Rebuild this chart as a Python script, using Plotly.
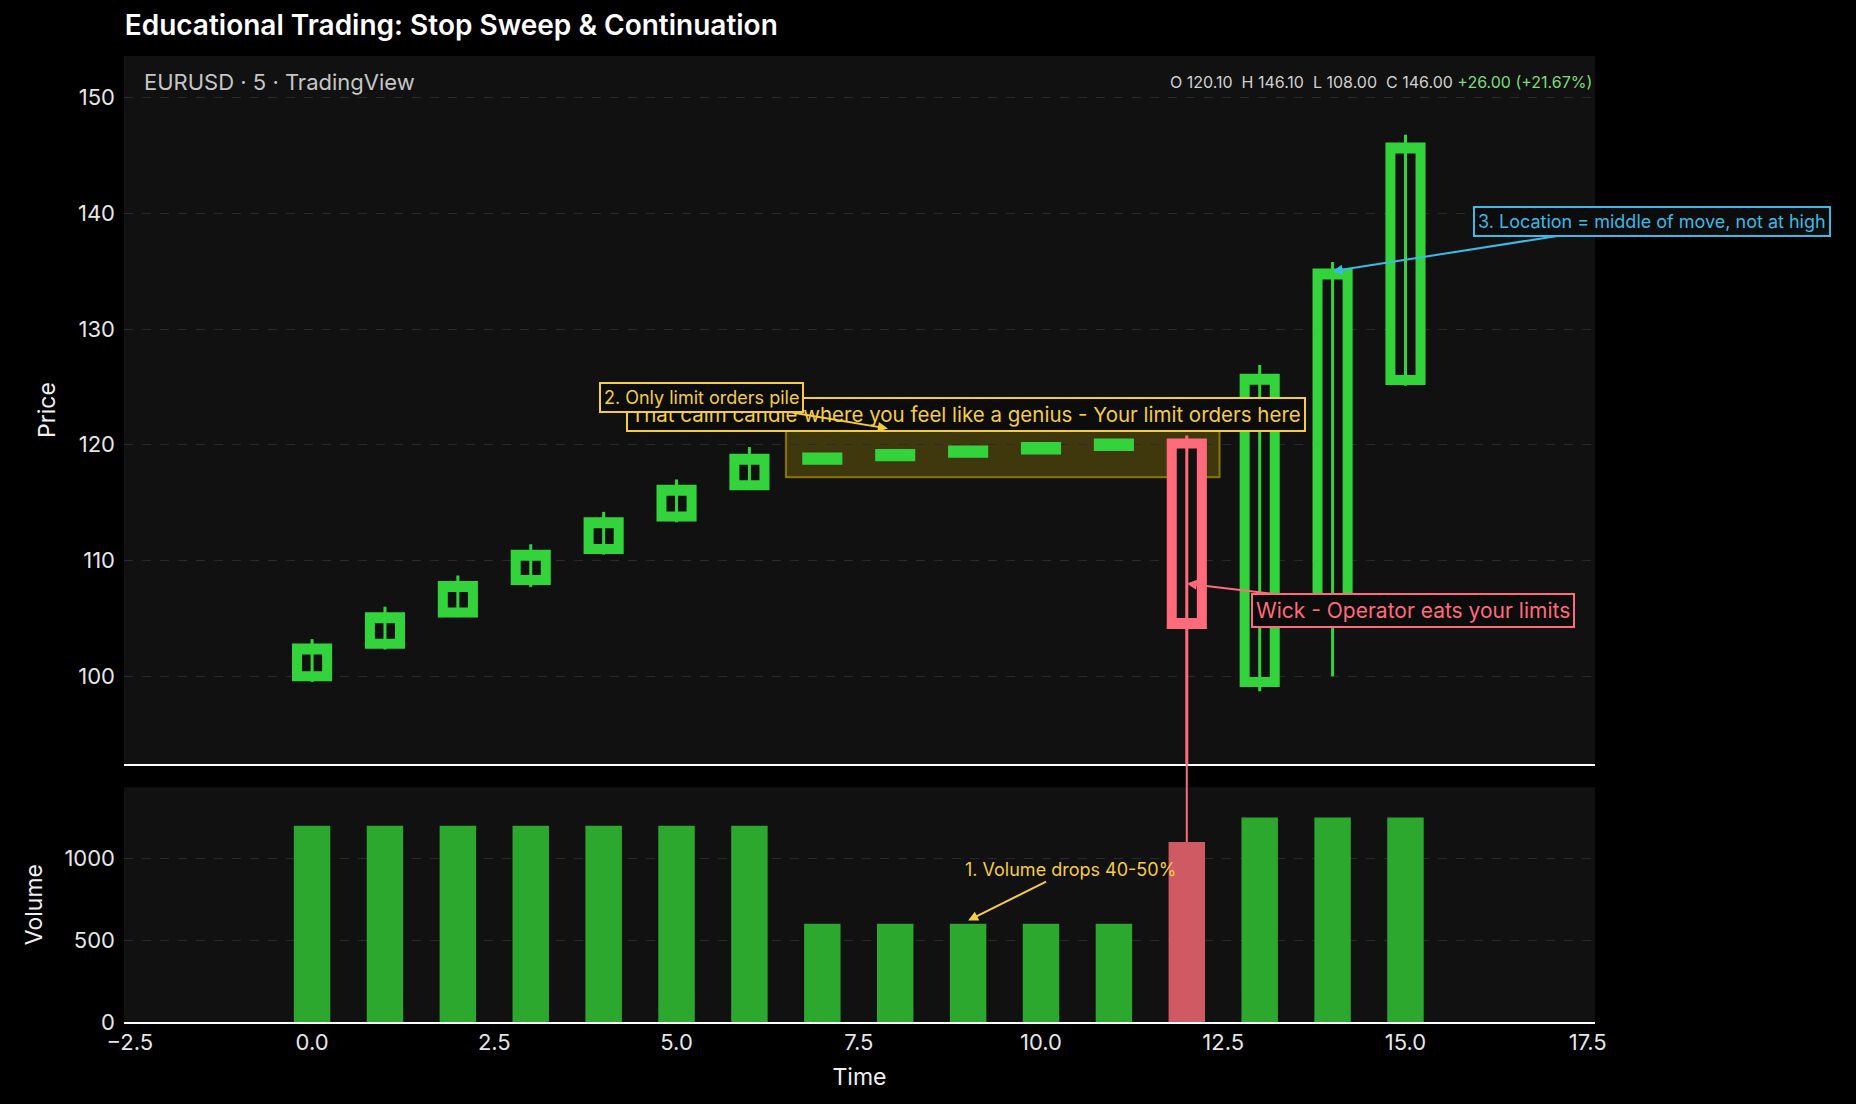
import plotly.graph_objects as go

# -----------------------------
# Data
# -----------------------------
TIME = list(range(16))
OPEN = [100.0, 102.8, 105.5, 108.3, 111.0, 113.8, 116.5,
        118.7, 119.0, 119.3, 119.6, 119.9,
        120.1, 99.5, 106.0, 125.6]
HIGH = [103.2, 106.0, 108.7, 111.4, 114.2, 117.0, 119.8,
        119.1, 119.4, 119.7, 120.0, 120.3,
        120.8, 126.9, 135.8, 146.8]
LOW = [99.5, 102.3, 105.1, 107.7, 110.5, 113.3, 116.1,
       118.5, 118.8, 119.1, 119.4, 119.7,
       90.0, 98.7, 100.0, 125.1]
CLOSE = [102.4, 105.1, 107.8, 110.5, 113.3, 116.1, 118.8,
         118.9, 119.2, 119.5, 119.8, 120.1,
         104.5, 125.7, 134.8, 145.7]
VOLUME = [1200, 1200, 1200, 1200, 1200, 1200, 1200,
          600, 600, 600, 600, 600,
          1100, 1250, 1250, 1250]

X_TICKS = [-2.5, 0.0, 2.5, 5.0, 7.5, 10.0, 12.5, 15.0, 17.5]

# -----------------------------
# Style
# -----------------------------
FONT = "Inter"
GREEN = "#33D33C"
RED = "#FF6B7A"
VOL_GREEN = "#2DA82E"
VOL_RED = "#CF5A64"
YELLOW = "#F4CD45"
CYAN = "#3CB9E6"
PLOT_BG = "#111111"
GRID = "#2a2a2a"

X_RANGE = [-2.58, 17.6]
PRICE_RANGE = [92.4, 153.6]
VOL_RANGE = [0, 1435]
PRICE_DOMAIN = [0.267, 1.0]
VOL_DOMAIN = [0.0, 0.243]


def vol_to_paper(v):
    return VOL_DOMAIN[0] + (v - VOL_RANGE[0]) / (VOL_RANGE[1] - VOL_RANGE[0]) * (VOL_DOMAIN[1] - VOL_DOMAIN[0])


up = [c >= o for o, c in zip(OPEN, CLOSE)]
body_hi = [max(o, c) for o, c in zip(OPEN, CLOSE)]
body_lo = [min(o, c) for o, c in zip(OPEN, CLOSE)]

fig = go.Figure()

# candle bodies (thick outline, dark inside)
fig.add_trace(go.Candlestick(
    x=TIME, open=OPEN, high=body_hi, low=body_lo, close=CLOSE,
    increasing=dict(line=dict(color=GREEN, width=10), fillcolor=PLOT_BG),
    decreasing=dict(line=dict(color=RED, width=10), fillcolor=PLOT_BG),
    whiskerwidth=0, showlegend=False, xaxis="x", yaxis="y",
))

# thin wicks through the bodies
for flag, col in [(True, GREEN), (False, RED)]:
    wx, wy = [], []
    for t, lo, hi, u in zip(TIME, LOW, HIGH, up):
        if u == flag:
            wx += [t, t, None]
            wy += [lo, hi, None]
    fig.add_trace(go.Scatter(x=wx, y=wy, mode="lines", line=dict(color=col, width=3),
                             showlegend=False, hoverinfo="skip", xaxis="x", yaxis="y"))

# volume
fig.add_trace(go.Bar(
    x=TIME, y=VOLUME, width=0.5,
    marker=dict(color=[VOL_GREEN if u else VOL_RED for u in up], line=dict(width=0)),
    showlegend=False, xaxis="x2", yaxis="y2",
))

# -----------------------------
# Shapes
# -----------------------------
i_red = up.index(False)
shapes = [
    dict(type="rect", xref="x", yref="y", x0=6.5, x1=12.45, y0=117.2, y1=121.2,
         fillcolor="rgba(255,215,0,0.2)", line=dict(color="rgba(255,215,0,0.45)", width=2),
         layer="below"),
    # red wick carried down to its volume bar
    dict(type="line", xref="x", yref="paper", x0=TIME[i_red], x1=TIME[i_red],
         y0=vol_to_paper(VOLUME[i_red]), y1=PRICE_DOMAIN[0],
         line=dict(color=RED, width=2)),
]

# -----------------------------
# Annotations
# -----------------------------
box = dict(borderwidth=2, borderpad=3, bgcolor="#0c0c0c")
annotations = [
    dict(text="EURUSD · 5 · TradingView", xref="paper", yref="paper", x=0.012, y=0.973,
         xanchor="left", yanchor="middle", showarrow=False,
         font=dict(family=FONT, size=22, color="#c6c6c6")),
    dict(text="O 120.10  H 146.10  L 108.00  C 146.00 <span style='color:#7ddc7a'>+26.00 (+21.67%)</span>",
         xref="paper", yref="paper", x=0.999, y=0.973, xanchor="right", yanchor="middle",
         showarrow=False, font=dict(family=FONT, size=16, color="#d0d0d0")),
    dict(text="That calm candle where you feel like a genius - Your limit orders here",
         xref="x", yref="y", x=8.97, y=122.6, showarrow=False,
         font=dict(family=FONT, size=20.5, color=YELLOW), bordercolor=YELLOW, **box),
    dict(text="2. Only limit orders pile", xref="x", yref="y", x=7.9, y=121.4,
         ax=-186, ay=-31, showarrow=True, arrowhead=2, arrowsize=1, arrowwidth=2, arrowcolor=YELLOW,
         font=dict(family=FONT, size=18, color=YELLOW), bordercolor=YELLOW, **box),
    dict(text="3. Location = middle of move, not at high", xref="x", yref="y", x=14.0, y=135.0,
         ax=319, ay=-50, showarrow=True, arrowhead=2, arrowsize=1, arrowwidth=2, arrowcolor=CYAN,
         font=dict(family=FONT, size=18, color=CYAN), bordercolor=CYAN, **box),
    dict(text="Wick - Operator eats your limits", xref="x", yref="y", x=12.0, y=108.0,
         ax=226, ay=27, showarrow=True, arrowhead=2, arrowsize=1, arrowwidth=2, arrowcolor=RED,
         font=dict(family=FONT, size=21, color=RED), bordercolor=RED, **box),
    dict(text="1. Volume drops 40-50%", xref="x2", yref="y2", x=9.0, y=620,
         ax=102, ay=-51, showarrow=True, arrowhead=2, arrowsize=1, arrowwidth=2, arrowcolor=YELLOW,
         font=dict(family=FONT, size=18, color=YELLOW)),
]

tick_font = dict(family=FONT, size=22, color="#e6e6e6")
title_font = dict(family=FONT, size=23, color="#f0f0f0")

fig.update_layout(
    width=1856, height=1104,
    paper_bgcolor="#000000", plot_bgcolor=PLOT_BG,
    margin=dict(l=124, r=261, t=56, b=82),
    title=dict(text="Educational Trading: Stop Sweep & Continuation",
               x=0.0672, xanchor="left", y=0.977, yanchor="middle", yref="container",
               font=dict(family=FONT, size=28, color="#ffffff", weight=600)),
    font=dict(family=FONT, color="#e6e6e6"),
    showlegend=False,
    xaxis=dict(domain=[0, 1], anchor="y", range=X_RANGE, showticklabels=False,
               showgrid=False, zeroline=False, showline=True, linecolor="#ffffff", linewidth=2,
               rangeslider=dict(visible=False), tickvals=X_TICKS),
    xaxis2=dict(domain=[0, 1], anchor="y2", matches="x", range=X_RANGE, tickvals=X_TICKS,
                tickformat=".1f", tickfont=tick_font, showgrid=False, zeroline=False,
                showline=True, linecolor="#ffffff", linewidth=2, ticklabelstandoff=0,
                title=dict(text="Time", font=title_font, standoff=14)),
    yaxis=dict(domain=PRICE_DOMAIN, anchor="x", range=PRICE_RANGE, tickvals=[100, 110, 120, 130, 140, 150],
               tickfont=tick_font, showgrid=True, gridcolor=GRID, griddash="dash", zeroline=False,
               showline=False, ticklabelstandoff=8, title=dict(text="Price", font=title_font)),
    yaxis2=dict(domain=VOL_DOMAIN, anchor="x2", range=VOL_RANGE, tickvals=[0, 500, 1000],
                tickfont=tick_font, showgrid=True, gridcolor=GRID, griddash="dash", zeroline=False,
                showline=False, ticklabelstandoff=8, title=dict(text="Volume", font=title_font)),
    shapes=shapes,
    annotations=annotations,
    boxgap=0.41, boxgroupgap=0.3,
)

fig.write_html("out.html", config={"displayModeBar": False},
               post_script="document.body.style.margin='0';document.body.style.background='#000';")
